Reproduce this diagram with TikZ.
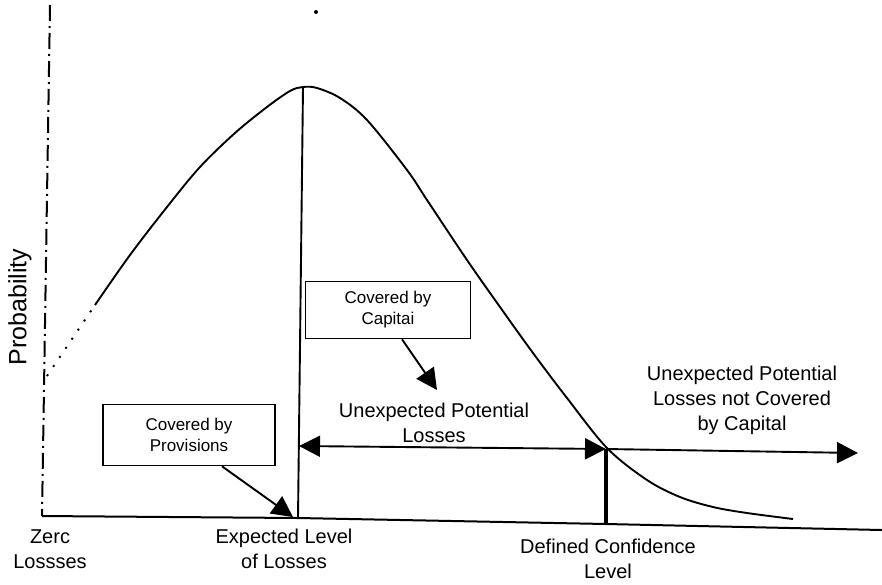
\documentclass[tikz,border=0pt]{standalone}
\usepackage{fontspec}
\setmainfont{Liberation Sans}
\usetikzlibrary{arrows.meta}
\begin{document}
\begin{tikzpicture}[x=1pt,y=-1pt,
  axisline/.style={line width=2pt},
  curveline/.style={line width=1.9pt},
  bigtip/.style={-{Triangle[length=21pt,width=21pt]}},
  twotips/.style={{Triangle[length=21pt,width=21pt]}-{Triangle[length=21pt,width=21pt]}},
  callout/.style={draw,line width=1.6pt,inner sep=0pt,align=center,font=\fontsize{17}{21}\selectfont},
  label/.style={align=center,font=\fontsize{20}{25}\selectfont}]
\useasboundingbox (0,0) rectangle (882,584);

% key points
\coordinate (ytop) at (50,5);
\coordinate (origin) at (42,516);
\coordinate (xend) at (882,530);
\coordinate (peak) at (303,87);
\coordinate (elbase) at (298,518);
\coordinate (elmid) at (299,446);
\coordinate (cl) at (606,449);
\coordinate (clbase) at (606,524);
\coordinate (rtip) at (858,453);
\coordinate (tailstart) at (47,376);
\coordinate (solidstart) at (95,305);

% axes
\draw[axisline,dash pattern=on 16pt off 5pt on 2pt off 5pt] (ytop) -- (origin);
\draw[axisline] (origin) -- (298,518) -- (606,524) -- (xend);

% loss distribution
\draw[curveline,dash pattern=on 2pt off 9pt] (tailstart) -- (solidstart);
\draw[curveline] plot[smooth,tension=0.55] coordinates{
  (95,305) (130,255) (167,207) (200,167) (235,133) (267,107) (290,91) (303,87)
  (317,88) (340,98) (367,120) (407,170) (427,200) (467,260) (500,307)
  (533,353) (567,398) (607,448) (647,480) (680,497) (713,507) (747,513) (793,519)};

% expected level and confidence level markers
\draw[line width=1.9pt] (peak) -- (elbase);
\draw[line width=4pt] (cl) -- (clbase);

% ranges
\draw[line width=1.9pt,twotips] (elmid) -- (cl);
\draw[line width=1.9pt,bigtip] (cl) -- (rtip);

% callout boxes
\node[callout,minimum width=172pt,minimum height=61pt] (prov) at (189,435) {Covered by\\Provisions};
\node[callout,minimum width=165pt,minimum height=57pt] (cap) at (388,310) {Covered by\\Capitai};
\coordinate (provtip) at (293,517);
\coordinate (captip) at (437,390);
\draw[line width=1.9pt,bigtip] ([xshift=33pt]prov.south) -- (provtip);
\draw[line width=1.9pt,bigtip] ([xshift=14pt]cap.south) -- (captip);

% labels
\node[label] (ulab) at (434,423) {Unexpected Potential\\Losses};
\node[label] (rlab) at (742,400) {Unexpected Potential\\Losses not Covered\\by Capital};
\node[label] (zlab) at (50,549) {Zerc\\Lossses};
\node[label] (elab) at (284,549) {Expected Level\\of Losses};
\node[label] (dlab) at (608,559) {Defined Confidence\\Level};
\node[rotate=90,font=\fontsize{25}{30}\selectfont] (ylab) at (20,307) {Probability};
\fill (316,12) circle (2pt);
\end{tikzpicture}
\end{document}
